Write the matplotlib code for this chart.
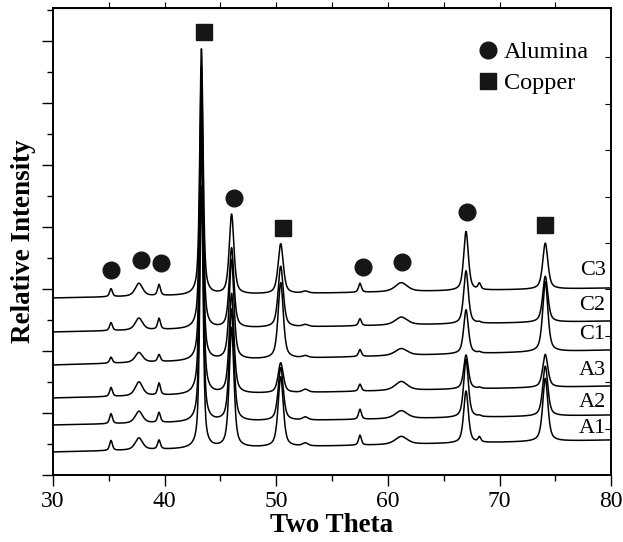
import matplotlib
matplotlib.use("Agg")
import matplotlib.pyplot as plt
import numpy as np
from matplotlib.ticker import MultipleLocator, FixedLocator, NullFormatter

plt.rcParams['font.family'] = ['Liberation Serif', 'DejaVu Serif']

# samples, bottom to top
samples = ['A1', 'A2', 'A3', 'C1', 'C2', 'C3']
base_start = [23, 50, 77, 110, 143, 177]   # intensity at 2θ = 30
base_end = [35, 60, 89, 125, 154, 187]     # intensity at 2θ = 80

# reflections (2θ, FWHM)
peak_pos = [35.2, 37.7, 39.5, 43.3, 46.0, 50.4, 52.6, 57.5, 61.2, 67.0, 68.2, 74.1]
peak_fwhm = [0.3, 0.8, 0.3, 0.35, 0.5, 0.55, 0.6, 0.3, 1.3, 0.5, 0.3, 0.55]

# peak heights per sample, same order as peak_pos
heights = {
    'A1': [10, 12, 9, 262, 120, 70, 3, 10, 8, 52, 5, 63],
    'A2': [10, 12, 10, 285, 112, 53, 3, 10, 8, 58, 1, 50],
    'A3': [9, 14, 12, 305, 100, 30, 3, 7, 9, 34, 1, 33],
    'C1': [6, 10, 7, 255, 100, 76, 2, 7, 7, 44, 1, 70],
    'C2': [8, 12, 11, 262, 80, 61, 2, 7, 8, 53, 1, 46],
    'C3': [8, 13, 11, 246, 80, 50, 2, 9, 9, 59, 6, 46],
}

# phase markers
alumina_x = [35.2, 37.9, 39.7, 46.2, 57.8, 61.3, 67.1]
alumina_y = [205, 215, 212, 277, 208, 213, 263]
copper_x = [43.5, 50.6, 74.1]
copper_y = [443, 247, 250]

label_y = [47, 73, 105, 141, 170, 205]

two_theta = np.linspace(30, 80, 2501)


def pseudo_voigt(x, x0, fwhm, eta=0.6):
    g = np.exp(-4 * np.log(2) * (x - x0) ** 2 / fwhm ** 2)
    l = 1 / (1 + 4 * (x - x0) ** 2 / fwhm ** 2)
    return eta * l + (1 - eta) * g


fig = plt.figure(figsize=(6.23, 5.42), dpi=100)
ax = fig.add_axes([0.085, 0.1236, 0.896, 0.8616])

for i, s in enumerate(samples):
    y = np.interp(two_theta, [30, 80], [base_start[i], base_end[i]])
    for p, w, h in zip(peak_pos, peak_fwhm, heights[s]):
        y = y + h * pseudo_voigt(two_theta, p, w)
    ax.plot(two_theta, y, color='black', lw=1.1)
    ax.text(79.5, label_y[i], s, ha='right', va='center', fontsize=16)

ax.plot(alumina_x, alumina_y, 'o', color='#161616', ms=12, ls='none', label='Alumina')
ax.plot(copper_x, copper_y, 's', color='#161616', ms=11.5, ls='none', label='Copper')

ax.legend(loc='upper right', bbox_to_anchor=(0.995, 0.97), frameon=False,
          fontsize=17.5, handletextpad=0.1, labelspacing=0.35, borderpad=0.3,
          handlelength=1.1)

ax.set_xlim(30, 80)
ax.set_ylim(0, 467)
ax.xaxis.set_major_locator(MultipleLocator(10))
ax.xaxis.set_minor_locator(MultipleLocator(5))
ax.yaxis.set_major_locator(MultipleLocator(62))
ax.yaxis.set_minor_locator(MultipleLocator(31))
ax.yaxis.set_major_formatter(NullFormatter())
ax.tick_params(axis='both', which='major', direction='out', length=8, width=1, labelsize=17)
ax.tick_params(axis='both', which='minor', direction='out', length=4, width=1)

top = ax.secondary_xaxis('top')
top.xaxis.set_major_locator(FixedLocator([35, 40, 45, 50, 55, 60, 65, 70, 75]))
top.tick_params(direction='out', length=4, labeltop=False)

right = ax.twinx()
right.set_ylim(0, 467)
right.yaxis.set_major_locator(FixedLocator([46.4 * k for k in range(1, 10)]))
right.tick_params(direction='in', length=4, labelright=False)

for a in (ax, right):
    for sp in a.spines.values():
        sp.set_linewidth(1.2)

ax.set_xlabel('Two Theta', fontsize=19.5, fontweight='bold', labelpad=1)
ax.set_ylabel('Relative Intensity', fontsize=19.5, fontweight='bold', labelpad=1)

fig.savefig('out.png', dpi=100)
